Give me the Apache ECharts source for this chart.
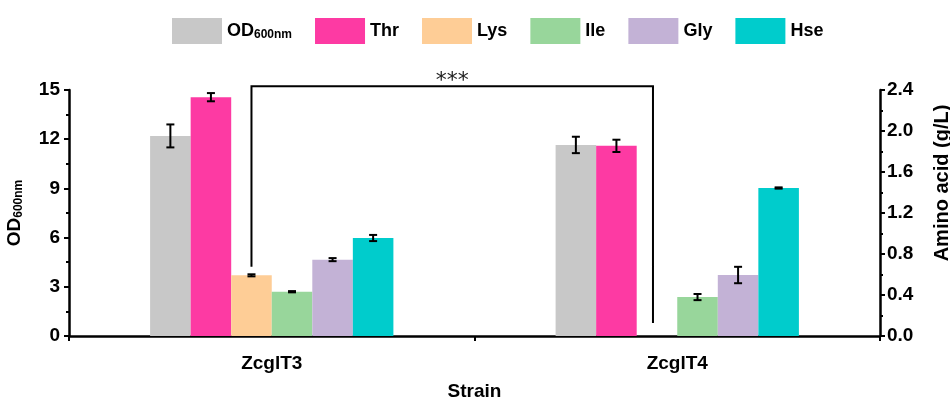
<!DOCTYPE html>
<html>
<head>
<meta charset="utf-8">
<script src="https://cdn.jsdelivr.net/npm/echarts@6/dist/echarts.min.js"></script>
<style>html,body{margin:0;padding:0;background:#fff;}#c{width:950px;height:401px;}</style>
</head>
<body>
<div id="c"></div>
<script>
const categories = ['ZcglT3', 'ZcglT4'];
const seriesNames = ['OD600nm', 'Thr', 'Lys', 'Ile', 'Gly', 'Hse'];
const odValues = [12.2, 11.65];
const odErr = [0.7, 0.5];
const thrValues = [2.33, 1.855];
const thrErr = [0.04, 0.06];
const lysValues = [0.592, 0];
const lysErr = [0.01, null];
const ileValues = [0.432, 0.38];
const ileErr = [0.006, 0.03];
const glyValues = [0.745, 0.595];
const glyErr = [0.015, 0.08];
const hseValues = [0.956, 1.444];
const hseErr = [0.03, 0.006];
const leftTicks = [0, 3, 6, 9, 12, 15];
const rightTicks = [0.0, 0.4, 0.8, 1.2, 1.6, 2.0, 2.4];
const bracket = { top: 2.436, leftEnd: 0.676, rightEnd: 0.127, label: '***' };

const colors = ['#c8c8c8', '#fd3aa3', '#fecd96', '#98d69b', '#c3b2d6', '#00cccc'];
const FONT = 'Liberation Sans, Arial, sans-serif';

const valueSets = [odValues, thrValues, lysValues, ileValues, glyValues, hseValues];
const errSets = [odErr, thrErr, lysErr, ileErr, glyErr, hseErr];

const chart = echarts.init(document.getElementById('c'));

const barSeries = valueSets.map((vals, k) => ({
  name: seriesNames[k],
  type: 'bar',
  xAxisIndex: 0,
  yAxisIndex: k === 0 ? 0 : 1,
  barWidth: '10%',
  barGap: '0%',
  itemStyle: { color: colors[k] },
  data: vals,
  z: 2
}));

const errSeries = valueSets.map((vals, k) => ({
  type: 'custom',
  xAxisIndex: 0,
  yAxisIndex: k === 0 ? 0 : 1,
  silent: true,
  z: 5,
  data: categories.map((c, i) => [i, vals[i], errSets[k][i]]).filter(d => d[2] != null),
  renderItem: function (params, api) {
    const ci = api.value(0), v = api.value(1), e = api.value(2);
    const bw = api.size([1, 0])[0] * 0.1;
    const c = api.coord([ci, v]);
    const x = c[0] + (k - 2.5) * bw;
    const t = api.coord([ci, v + e])[1];
    const b = api.coord([ci, v - e])[1];
    const hw = 4;
    const st = { stroke: '#000', lineWidth: 2 };
    return {
      type: 'group',
      children: [
        { type: 'line', shape: { x1: x, y1: t, x2: x, y2: b }, style: st },
        { type: 'line', shape: { x1: x - hw, y1: t, x2: x + hw, y2: t }, style: st },
        { type: 'line', shape: { x1: x - hw, y1: b, x2: x + hw, y2: b }, style: st }
      ]
    };
  }
}));

const bracketSeries = {
  type: 'custom',
  xAxisIndex: 0,
  yAxisIndex: 1,
  silent: true,
  z: 6,
  data: [[0, 1, bracket.top, bracket.leftEnd, bracket.rightEnd]],
  renderItem: function (params, api) {
    const bw = api.size([1, 0])[0] * 0.1;
    const lysOffset = (2 - 2.5) * bw;
    const xl = api.coord([api.value(0), 0])[0] + lysOffset;
    const xr = api.coord([api.value(1), 0])[0] + lysOffset - 4;
    const yt = api.coord([0, api.value(2)])[1];
    const yl = api.coord([0, api.value(3)])[1];
    const yr = api.coord([0, api.value(4)])[1];
    return {
      type: 'group',
      children: [
        { type: 'polyline', shape: { points: [[xl, yl], [xl, yt], [xr, yt], [xr, yr]] },
          style: { stroke: '#000', lineWidth: 2, fill: null } },
        { type: 'text', style: { x: (xl + xr) / 2, y: yt + 6, text: bracket.label,
          fontSize: 22, fontFamily: 'DejaVu Sans, sans-serif', fill: '#222', align: 'center', verticalAlign: 'bottom' } }
      ]
    };
  }
};

const axisLineStyle = { color: '#000', width: 2.5 };

chart.setOption({
  animation: false,
  backgroundColor: '#fff',
  textStyle: { fontFamily: FONT },
  legend: {
    data: seriesNames,
    left: 167,
    top: 13,
    itemWidth: 50,
    itemHeight: 26,
    itemGap: 23,
    icon: 'rect',
    formatter: function (name) {
      if (name === 'OD600nm') return '{a|OD}{b|600nm}';
      if (name === 'Ile') return '{p|Ile}';
      return '{a|' + name + '}';
    },
    textStyle: {
      color: '#000',
      rich: {
        a: { fontSize: 18, fontWeight: 'bold', fontFamily: FONT, color: '#000' },
        p: { fontSize: 18, fontWeight: 'bold', fontFamily: FONT, color: '#000', padding: [0, 11, 0, 0] },
        b: { fontSize: 12, fontWeight: 'bold', fontFamily: FONT, color: '#000', padding: [8, 0, 0, 0] }
      }
    }
  },
  grid: { left: 69, right: 70, top: 90, bottom: 65, containLabel: false, outerBoundsMode: 'none' },
  xAxis: [
    {
      type: 'category',
      data: categories,
      position: 'bottom',
      name: 'Strain',
      nameLocation: 'middle',
      nameGap: 46,
      nameTextStyle: { fontSize: 19, fontWeight: 'bold', color: '#000', fontFamily: FONT },
      axisLine: { lineStyle: axisLineStyle },
      axisTick: { alignWithLabel: true, length: 5, lineStyle: { color: '#000', width: 2 } },
      axisLabel: { fontSize: 19, fontWeight: 'bold', color: '#000', margin: 18, fontFamily: FONT },
      splitLine: { show: false }
    },
    {
      type: 'category',
      data: categories,
      position: 'bottom',
      axisLine: { show: false },
      axisTick: { show: true, length: 5, lineStyle: { color: '#000', width: 2 } },
      axisLabel: { show: false },
      splitLine: { show: false }
    }
  ],
  yAxis: [
    {
      type: 'value',
      position: 'left',
      min: leftTicks[0],
      max: leftTicks[leftTicks.length - 1],
      interval: leftTicks[1] - leftTicks[0],
      name: '{a|OD}{b|600nm}',
      nameLocation: 'middle',
      nameGap: 44,
      nameTextStyle: {
        rich: {
          a: { fontSize: 19, fontWeight: 'bold', fontFamily: FONT, color: '#000' },
          b: { fontSize: 12, fontWeight: 'bold', fontFamily: FONT, color: '#000', padding: [8, 0, 0, 0] }
        }
      },
      axisLine: { show: true, lineStyle: axisLineStyle },
      axisTick: { show: true, length: 5, lineStyle: { color: '#000', width: 2 } },
      minorTick: { show: true, splitNumber: 2, length: 3, lineStyle: { color: '#000', width: 2 } },
      axisLabel: { fontSize: 19, fontWeight: 'bold', color: '#000', margin: 9, fontFamily: FONT },
      splitLine: { show: false }
    },
    {
      type: 'value',
      position: 'right',
      min: rightTicks[0],
      max: rightTicks[rightTicks.length - 1],
      interval: 0.4,
      name: 'Amino acid (g/L)',
      nameLocation: 'middle',
      nameGap: 52,
      nameTextStyle: { fontSize: 20, fontWeight: 'bold', color: '#000', fontFamily: FONT, padding: [0, 0, 0, 60] },
      axisLine: { show: true, lineStyle: axisLineStyle },
      axisTick: { show: true, length: 5, lineStyle: { color: '#000', width: 2 } },
      minorTick: { show: true, splitNumber: 2, length: 3, lineStyle: { color: '#000', width: 2 } },
      axisLabel: { fontSize: 19, fontWeight: 'bold', color: '#000', margin: 7, fontFamily: FONT,
        formatter: v => v.toFixed(1) },
      splitLine: { show: false }
    }
  ],
  series: [...barSeries, ...errSeries, bracketSeries]
});
</script>
</body>
</html>
